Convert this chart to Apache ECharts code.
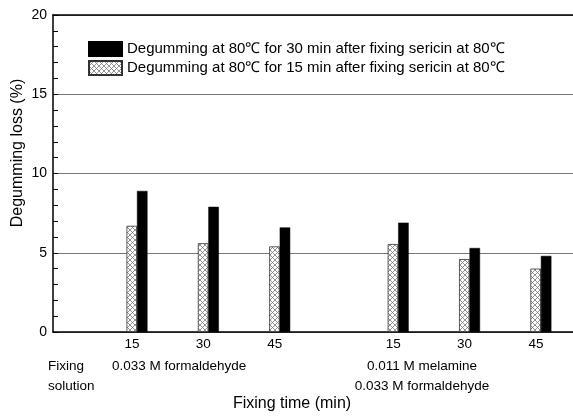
<!DOCTYPE html>
<html>
<head>
<meta charset="utf-8">
<script src="https://cdn.jsdelivr.net/npm/echarts@6/dist/echarts.min.js"></script>
<style>
  html, body { margin: 0; padding: 0; background: #fff; }
  #chart { width: 573px; height: 417px; }
</style>
</head>
<body>
<div id="chart"></div>
<script>
// Fixing times (min) for each fixing solution group
const fixingTimes = [15, 30, 45];
const groupNames = ['0.033 M formaldehyde', '0.011 M melamine\n0.033 M formaldehyde'];

// Degumming loss (%) — group 1 then group 2, in fixing-time order
const loss30min = [8.9, 7.9, 6.6, 6.9, 5.3, 4.8];
const loss15min = [6.7, 5.6, 5.4, 5.55, 4.6, 4.0];

const name30 = 'Degumming at 80\u2103 for 30 min after fixing sericin at 80\u2103';
const name15 = 'Degumming at 80\u2103 for 15 min after fixing sericin at 80\u2103';

const yTicks = [0, 5, 10, 15, 20];

// slot layout along x: three slots per group, with a wider gap between groups
const groupStart = [1, 4.66];
const slots = [];
const slotLabels = [];
groupStart.forEach(function (s) {
  fixingTimes.forEach(function (t, i) {
    slots.push(+(s + i).toFixed(2));
    slotLabels.push(String(t));
  });
});

// cross-hatch fill
function hatch() {
  const c = document.createElement('canvas');
  c.width = 5; c.height = 5;
  const g = c.getContext('2d');
  g.fillStyle = '#fff';
  g.fillRect(0, 0, 5, 5);
  g.strokeStyle = '#777';
  g.lineWidth = 0.8;
  g.beginPath();
  g.moveTo(0, 0); g.lineTo(5, 5);
  g.moveTo(5, 0); g.lineTo(0, 5);
  g.stroke();
  return c;
}

const font = '"Liberation Sans", Arial, sans-serif';
const chart = echarts.init(document.getElementById('chart'), null, { renderer: 'canvas' });

const yMin = yTicks[0];
const yMax = yTicks[yTicks.length - 1];

chart.setOption({
  animation: false,
  backgroundColor: '#fff',
  textStyle: { fontFamily: font },
  grid: { left: 53, right: 0, top: 15, bottom: 85, outerBoundsMode: 'none', containLabel: false },
  legend: {
    orient: 'vertical',
    left: 88,
    top: 41,
    padding: 0,
    itemWidth: 33,
    itemHeight: 14,
    itemGap: 3,
    icon: 'rect',
    textStyle: { fontSize: 15, lineHeight: 15, color: '#000', fontFamily: font },
    data: [name30, name15]
  },
  xAxis: [{
    type: 'value',
    min: -0.177,
    max: 7.11,
    axisLine: { show: true, onZero: false, lineStyle: { color: '#000', width: 1.5 } },
    axisTick: { show: false },
    splitLine: { show: false },
    axisLabel: {
      customValues: slots,
      formatter: function (v) {
        const i = slots.indexOf(+v.toFixed(2));
        return i >= 0 ? slotLabels[i] : '';
      },
      fontSize: 13.5,
      color: '#000',
      margin: 5,
      padding: [0, 10, 0, 0]
    }
  }, {
    type: 'value',
    position: 'top',
    min: -0.177,
    max: 7.11,
    axisLine: { show: true, onZero: false, lineStyle: { color: '#000', width: 1.5 } },
    axisTick: { show: false },
    axisLabel: { show: false },
    splitLine: { show: false }
  }],
  yAxis: [{
    type: 'value',
    min: yMin,
    max: yMax,
    interval: 5,
    axisLine: { show: true, onZero: false, lineStyle: { color: '#000', width: 1.5 } },
    axisTick: { show: true, inside: true, length: 5, lineStyle: { color: '#000', width: 1 } },
    minorTick: { show: true, splitNumber: 5, length: 5, lineStyle: { color: '#000', width: 1 } },
    axisLabel: { fontSize: 14, color: '#000', margin: 6 },
    splitLine: {
      show: true,
      lineStyle: { color: '#777', width: 1 }
    }
  }],
  series: [{
    name: name15,
    type: 'bar',
    barWidth: 10.5,
    barGap: '0%',
    itemStyle: {
      color: { image: hatch(), repeat: 'repeat' },
      borderColor: '#333',
      borderWidth: 0.8
    },
    data: slots.map(function (s, i) { return [s, loss15min[i]]; })
  }, {
    name: name30,
    type: 'bar',
    barWidth: 10.5,
    barGap: '0%',
    itemStyle: { color: '#000', borderColor: '#000', borderWidth: 0.5 },
    data: slots.map(function (s, i) { return [s, loss30min[i]]; })
  }],
  graphic: [
    {
      type: 'text', left: 48, top: 356,
      style: { text: 'Fixing\nsolution', font: '13.5px ' + font, fill: '#000', lineHeight: 20 }
    },
    {
      type: 'text', left: 112, top: 356,
      style: { text: groupNames[0], font: '13.5px ' + font, fill: '#000', lineHeight: 20 }
    },
    {
      type: 'text', x: 422, y: 356,
      style: { text: groupNames[1], font: '13.5px ' + font, fill: '#000', lineHeight: 20, align: 'center' }
    },
    {
      type: 'text', x: 292, y: 396,
      style: { text: 'Fixing time (min)', font: '16px ' + font, fill: '#000', align: 'center' }
    },
    {
      type: 'text', x: 18, y: 153, rotation: Math.PI / 2,
      style: { text: 'Degumming loss (%)', font: '16px ' + font, fill: '#000', align: 'center', verticalAlign: 'middle' }
    }
  ]
});
</script>
</body>
</html>
